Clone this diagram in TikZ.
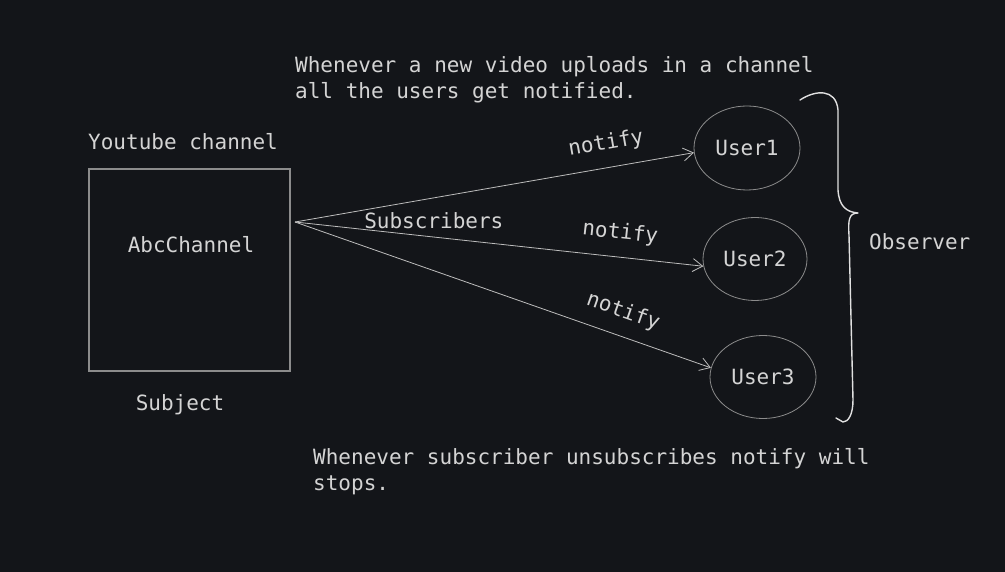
\documentclass[tikz,border=0pt]{standalone}
\usepackage{fontspec}
\setmonofont{DejaVu Sans Mono}
\usetikzlibrary{arrows.meta,shapes.geometric}
\definecolor{bgdark}{HTML}{131519}
\definecolor{inkgray}{HTML}{D4D4D4}
\definecolor{linegray}{HTML}{BDBDBD}
\definecolor{boxgray}{HTML}{8C8C8C}
\begin{document}
\begin{tikzpicture}[x=1pt,y=-1pt,
every node/.style={text=inkgray,font=\ttfamily\fontsize{21}{26}\selectfont},
user/.style={ellipse,draw=boxgray,line width=0.8pt,minimum width=106pt,minimum height=84pt},
notify/.style={-{Straight Barb[length=10pt,width=13pt]},draw=linegray,line width=0.8pt},
lbl/.style={pos=0.79,sloped,above=10pt},]
\fill[bgdark] (0,0) rectangle (1005,572);
\node[anchor=north west,align=left,inner sep=0] (top) at (295,56)
    {Whenever a new video uploads in a channel\\all the users get notified.};
\node[anchor=base west,inner sep=0] (yt) at (88,150) {Youtube channel};
\node[draw=boxgray,line width=1.2pt,minimum width=201pt,minimum height=202pt] (box) at (189.5,270) {};
\node[anchor=base,inner sep=0] (abc) at (191,253) {AbcChannel};
\node[anchor=base,inner sep=0] (subj) at (180,410) {Subject};
\node[user] (u1) at (747,148) {User1};
\node[user,minimum width=104pt,minimum height=83pt] (u2) at (755,259) {User2};
\node[user,minimum height=83pt] (u3) at (763,377) {User3};
\coordinate (src) at (295,222);
\draw[notify] (src) -- (u1.185) node[lbl] {notify};
\draw[notify] (src) -- (u2.188) node[lbl] {notify}
    node[pos=0.34,above=5pt] {Subscribers};
\draw[notify] (src) -- (u3.170) node[lbl,pos=0.77] {notify};
\draw[draw=white!88!black,line width=1.4pt,line cap=round,line join=round]
    (800,100) .. controls (815,90) and (836,88) .. (838,110) -- (838,190)
    .. controls (839,206) and (846,212) .. (858,213)
    .. controls (849,213) and (848,220) .. (849,235) -- (853,400)
    .. controls (853,415) and (848,422) .. (843,422) -- (836,418);
\node[anchor=base west,inner sep=0] (obs) at (869,250) {Observer};
\node[anchor=north west,align=left,inner sep=0] (bottom) at (313,448)
    {Whenever subscriber unsubscribes notify will\\stops.};
\end{tikzpicture}
\end{document}
